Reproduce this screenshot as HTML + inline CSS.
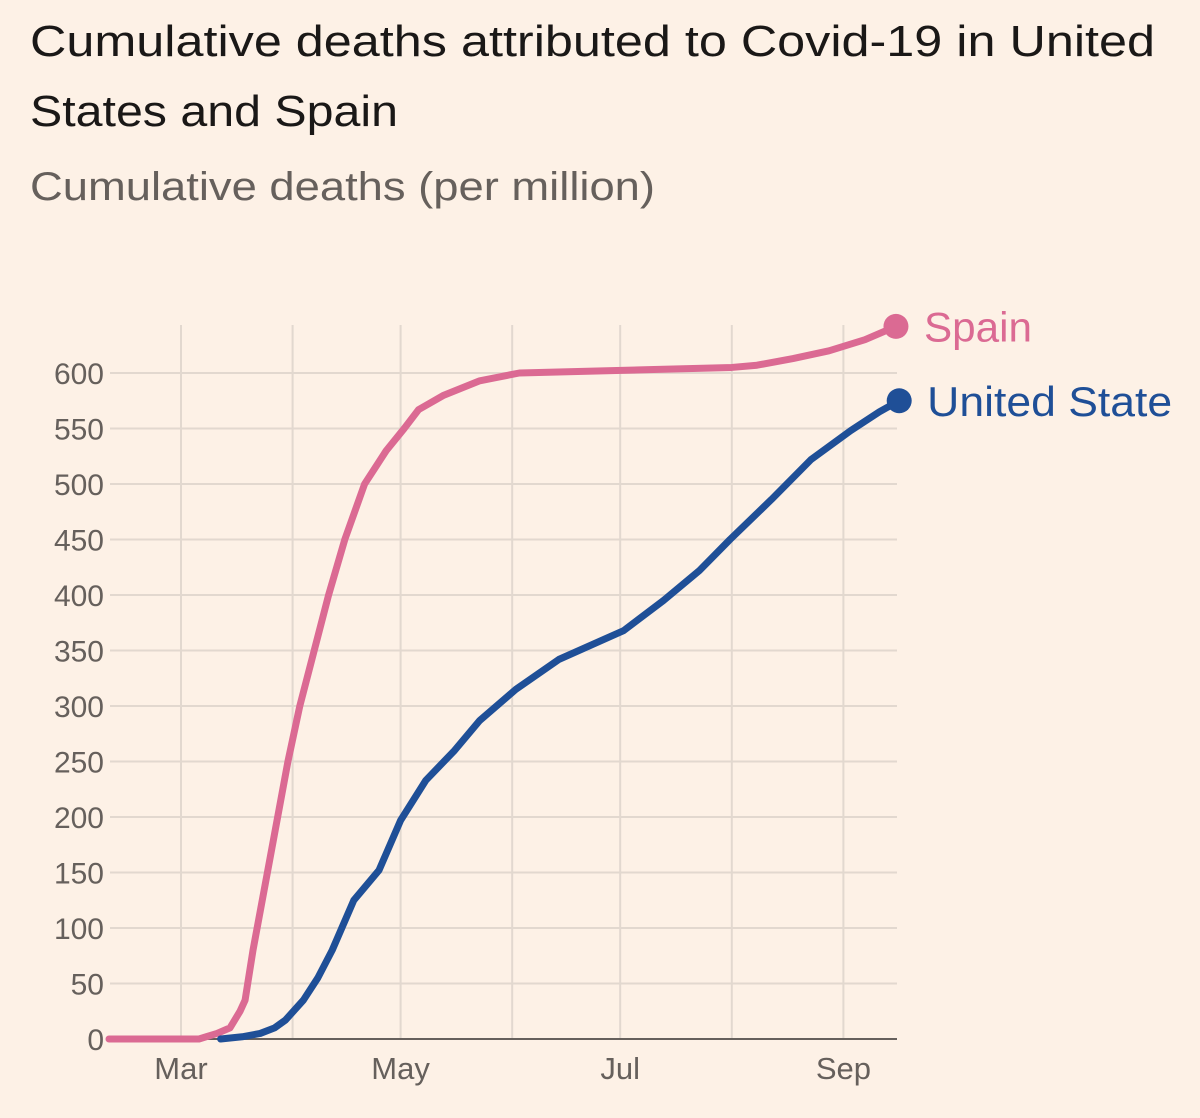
<!DOCTYPE html>
<html><head><meta charset="utf-8">
<style>
body{margin:0;background:#fdf1e6;}
#wrap{position:relative;width:1200px;height:1118px;background:#fdf1e6;overflow:hidden;font-family:"Liberation Sans",sans-serif;}
svg{position:absolute;left:0;top:0;}
</style></head>
<body>
<div id="wrap">
<svg id="chart" width="1200" height="1118">
<g font-family="Liberation Sans, sans-serif">
<text x="30" y="56" font-size="44" fill="#1a1817" textLength="1125" lengthAdjust="spacingAndGlyphs">Cumulative deaths attributed to Covid-19 in United</text>
<text x="30" y="126" font-size="44" fill="#1a1817" textLength="368" lengthAdjust="spacingAndGlyphs">States and Spain</text>
<text x="30" y="200" font-size="40" fill="#66605c" textLength="625" lengthAdjust="spacingAndGlyphs">Cumulative deaths (per million)</text>
</g>
</svg>
</div>
<script>
// days from 1 March 2020
const spainDays = [-20,5,7,10,13.6,16.4,17.8,20,24,29.7,33,37,41,45.5,51,57,62,66,73,83,94,130,153,160,170,180,190,198.6];
const spainVals = [0,0,2,5,10,25,35,80,150,250,300,350,400,450,500,530,550,567,580,593,600,603,605,607,613,620,630,642];
const usDays = [11,17,22,26,29,34,38,42,48,55,61,68,76,83,93,105,123,134,144,152.5,164,175,186,194,199.5];
const usVals = [0,2,5,10,17,35,55,80,125,152,197,233,260,287,315,342,368,395,422,450,486,522,548,565,575];
const yTicks = [0,50,100,150,200,250,300,350,400,450,500,550,600];
const monthLabels = ["Mar","Apr","May","Jun","Jul","Aug","Sep"];
const monthDays = [0,31,61,92,122,153,184];
const monthShown = [true,false,true,false,true,false,true];

const NS="http://www.w3.org/2000/svg";
const svg=document.getElementById('chart');
const x0=110,x1=897,xMar=181,pxPerDay=3.6;
const X=d=>xMar+d*pxPerDay;
const Y=v=>1039-v*(666/600);
function mk(t,a){const e=document.createElementNS(NS,t);for(const k in a)e.setAttribute(k,a[k]);svg.appendChild(e);return e;}

yTicks.forEach((t,i)=>{
  const g=mk('line',{x1:x0,x2:x1,y1:Y(t),y2:Y(t),stroke:'#e2d8cf','stroke-width':2});
  
  
  const l=mk('text',{x:104,y:Y(t)+11,'text-anchor':'end','font-size':30,fill:'#66605c','font-family':'Liberation Sans, sans-serif'});
  l.textContent=t;
  
  
});
monthDays.forEach((d,i)=>{
  const g=mk('line',{x1:X(d),x2:X(d),y1:325,y2:1039,stroke:'#e2d8cf','stroke-width':2});
  
  
  if(monthShown[i]){
    const l=mk('text',{x:X(d),y:1079,'text-anchor':'middle','font-size':31,fill:'#66605c','font-family':'Liberation Sans, sans-serif'});
    l.textContent=monthLabels[i];
    
    
  }
});
const ax=mk('line',{x1:x0,x2:x1,y1:1039,y2:1039,stroke:'#66605c','stroke-width':2});



function series(days,vals,color,name,label,tl){
  const p=mk('polyline',{points:days.map((d,i)=>X(d)+','+Y(vals[i])).join(' '),fill:'none',stroke:color,'stroke-width':7,'stroke-linejoin':'round','stroke-linecap':'round'});
  
  
  const n=days.length-1;
  const c=mk('circle',{cx:X(days[n]),cy:Y(vals[n]),r:12.5,fill:color});
  
  
  const t=mk('text',{x:X(days[n])+28,y:Y(vals[n])+15,'font-size':42,fill:color,'font-family':'Liberation Sans, sans-serif',textLength:tl,lengthAdjust:'spacingAndGlyphs'});
  t.textContent=label;
  
  
}
series(spainDays,spainVals,'#db6a93','spain','Spain',108);
series(usDays,usVals,'#1f4f97','united-states','United State',245);
</script>
</body></html>
